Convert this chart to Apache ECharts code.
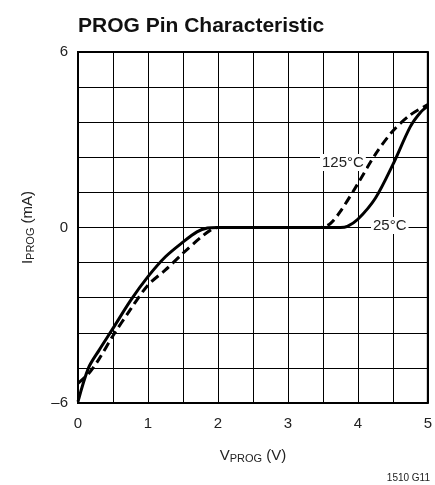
<!DOCTYPE html>
<html><head><meta charset="utf-8">
<script src="https://cdn.jsdelivr.net/npm/echarts@6/dist/echarts.min.js"></script>
<style>html,body{margin:0;padding:0;background:#fff}#c{width:435px;height:485px}</style>
</head><body><div id="c"></div>
<script>
const xTicks = [0, 1, 2, 3, 4, 5];
const yTicks = [-6, 0, 6];
const v25 = [0, 0.15, 0.3, 0.5, 0.75, 1.0, 1.25, 1.5, 1.7, 1.85, 2.0, 3.0, 3.75, 3.85, 4.0, 4.25, 4.5, 4.75, 4.9, 5.0];
const i25 = [-5.95, -4.8, -4.2, -3.45, -2.5, -1.68, -1.0, -0.5, -0.15, -0.02, 0, 0, 0, 0.04, 0.28, 1.0, 2.15, 3.45, 3.95, 4.15];
const v125 = [0, 0.15, 0.3, 0.5, 0.75, 1.0, 1.25, 1.5, 1.75, 1.9, 2.0, 3.0, 3.45, 3.6, 3.75, 4.0, 4.25, 4.5, 4.75, 5.0];
const i125 = [-5.33, -5.0, -4.5, -3.7, -2.8, -1.97, -1.45, -0.88, -0.35, -0.08, 0, 0, 0, 0.12, 0.55, 1.5, 2.5, 3.3, 3.85, 4.2];
const seriesNames = ['25°C', '125°C'];

const chart = echarts.init(document.getElementById('c'), null, {renderer: 'canvas'});
const font = 'Liberation Sans, Arial, sans-serif';
const zip = (a, b) => a.map((x, k) => [x, b[k]]);
chart.setOption({
  animation: false,
  backgroundColor: '#fff',
  title: {
    text: 'PROG Pin Characteristic', left: 73, top: 11,
    textStyle: {fontFamily: font, fontWeight: 'bold', fontSize: 21, color: '#111'}
  },
  grid: {left: 78, right: 5, top: 52, bottom: 82, show: true, borderColor: '#000', borderWidth: 2},
  xAxis: {
    type: 'value', min: 0, max: 5, interval: 0.5,
    axisLine: {show: false}, axisTick: {show: false},
    splitLine: {show: true, lineStyle: {color: '#000', width: 1}},
    axisLabel: {
      margin: 13, fontFamily: font, fontSize: 15, color: '#222',
      formatter: v => { const r = Math.round(v); return (Math.abs(v - r) < 1e-6 && xTicks.includes(r)) ? String(r) : ''; }
    },
    name: 'V{sub|PROG} (V)', nameLocation: 'middle', nameGap: 44,
    nameTextStyle: {fontFamily: font, fontSize: 15, color: '#222', rich: {sub: {fontFamily: font, fontSize: 11, color: '#222', verticalAlign: 'bottom', padding: [6, 0, 0, 0]}}}
  },
  yAxis: {
    type: 'value', min: -6, max: 6, interval: 1.2,
    axisLine: {show: false}, axisTick: {show: false},
    splitLine: {show: true, lineStyle: {color: '#000', width: 1}},
    axisLabel: {
      margin: 10, fontFamily: font, fontSize: 15, color: '#222',
      formatter: v => { const r = Math.round(v); if (Math.abs(v - r) > 1e-6 || !yTicks.includes(r)) return ''; return r < 0 ? '\u2013' + (-r) : String(r); }
    },
    name: 'I{sub|PROG} (mA)', nameLocation: 'middle', nameGap: 42, nameRotate: 90,
    nameTextStyle: {fontFamily: font, fontSize: 15, color: '#222', rich: {sub: {fontFamily: font, fontSize: 11, color: '#222', verticalAlign: 'bottom', padding: [6, 0, 0, 0]}}}
  },
  series: [
    {name: seriesNames[0], type: 'line', data: zip(v25, i25), showSymbol: false, smooth: 0.3,
     lineStyle: {color: '#000', width: 3}, z: 3},
    {name: seriesNames[1], type: 'line', data: zip(v125, i125), showSymbol: false, smooth: 0.3,
     lineStyle: {color: '#000', width: 3, type: [9, 5]}, z: 2}
  ],
  graphic: [
    {type: 'text', left: 320, top: 154, z: 10, style: {text: seriesNames[1], fontFamily: font, fontSize: 15, fill: '#222', backgroundColor: '#fff', padding: [1, 2]}},
    {type: 'text', left: 371, top: 217, z: 10, style: {text: seriesNames[0], fontFamily: font, fontSize: 15, fill: '#222', backgroundColor: '#fff', padding: [1, 2]}},
    {type: 'text', right: 5, top: 473, z: 10, style: {text: '1510 G11', fontFamily: font, fontSize: 10, fill: '#222'}}
  ]
});
</script></body></html>
